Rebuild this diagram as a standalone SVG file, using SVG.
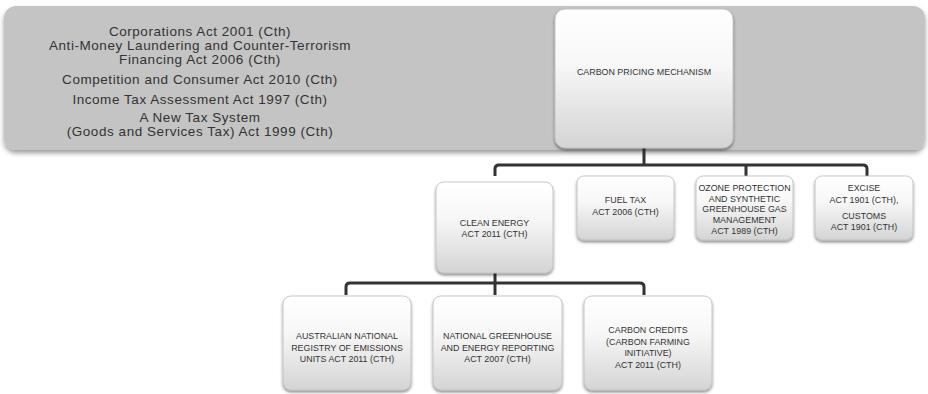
<svg xmlns="http://www.w3.org/2000/svg" width="928" height="394" viewBox="0 0 928 394">
<defs>
<linearGradient id="boxg" x1="0" y1="0" x2="0" y2="1">
<stop offset="0" stop-color="#ffffff"/>
<stop offset="0.4" stop-color="#f7f7f7"/>
<stop offset="1" stop-color="#d4d4d4"/>
</linearGradient>
<filter id="sh" x="-10%" y="-10%" width="120%" height="130%">
<feDropShadow dx="0" dy="2" stdDeviation="1.5" flood-color="#000" flood-opacity="0.45"/>
</filter>
<filter id="bsh" x="-5%" y="-10%" width="110%" height="130%">
<feDropShadow dx="0" dy="3" stdDeviation="2.5" flood-color="#000" flood-opacity="0.4"/>
</filter>
</defs>
<style>
.box{fill:url(#boxg);stroke:#bdbdbd;stroke-width:0.8;filter:url(#sh)}
.bt{font-family:"Liberation Sans",Arial,sans-serif;font-size:8.9px;fill:#333;text-anchor:middle}
.lt{font-family:"Liberation Sans",Arial,sans-serif;font-size:13.5px;letter-spacing:0.55px;fill:#333;text-anchor:middle}
.con{fill:none;stroke:#333;stroke-width:3;stroke-linejoin:round}
</style>
<rect width="928" height="394" fill="#ffffff"/>
<g id="band">
<rect x="4" y="6" width="921" height="144" rx="12" fill="#c4c4c4" filter="url(#bsh)"/>
<text class="lt" x="200" y="36">Corporations Act 2001 (Cth)</text>
<text class="lt" x="200" y="50">Anti-Money Laundering and  Counter-Terrorism</text>
<text class="lt" x="200" y="64">Financing Act 2006 (Cth)</text>
<text class="lt" x="200" y="84">Competition and Consumer Act 2010 (Cth)</text>
<text class="lt" x="200" y="104">Income Tax Assessment Act 1997 (Cth)</text>
<text class="lt" x="200" y="122">A New Tax System</text>
<text class="lt" x="200" y="136">(Goods and Services Tax) Act 1999 (Cth)</text>
</g>
<g id="connectors">
<path class="con" d="M644 148 V165"/>
<path class="con" d="M495 176 V169 Q495 165 499 165 H863 Q867 165 867 169 V176"/>
<path class="con" d="M746 165 V176"/>
<path class="con" d="M495 273 V283"/>
<path class="con" d="M346 295 V287 Q346 283 350 283 H640 Q644 283 644 287 V295"/>
<path class="con" d="M495 283 V295"/>
</g>
<g id="carbon-pricing">
<rect class="box" x="555" y="9" width="178" height="139" rx="10"/>
<text class="bt" x="644" y="75">CARBON PRICING MECHANISM</text>
</g>
<g id="clean-energy">
<rect class="box" x="436" y="182" width="117" height="91" rx="8"/>
<text class="bt" x="494.5" y="226">CLEAN ENERGY</text>
<text class="bt" x="494.5" y="237">ACT 2011 (CTH)</text>
</g>
<g id="fuel-tax">
<rect class="box" x="577" y="176" width="97" height="64" rx="7"/>
<text class="bt" x="625.5" y="203">FUEL TAX</text>
<text class="bt" x="625.5" y="215">ACT 2006 (CTH)</text>
</g>
<g id="ozone">
<rect class="box" x="696" y="176" width="97" height="64" rx="7"/>
<text class="bt" x="744.5" y="191">OZONE PROTECTION</text>
<text class="bt" x="744.5" y="201.5">AND SYNTHETIC</text>
<text class="bt" x="744.5" y="212">GREENHOUSE GAS</text>
<text class="bt" x="744.5" y="223">MANAGEMENT</text>
<text class="bt" x="744.5" y="234">ACT 1989 (CTH)</text>
</g>
<g id="excise">
<rect class="box" x="815" y="176" width="98" height="64" rx="7"/>
<text class="bt" x="864" y="191">EXCISE</text>
<text class="bt" x="864" y="203">ACT 1901 (CTH),</text>
<text class="bt" x="864" y="219">CUSTOMS</text>
<text class="bt" x="864" y="229.5">ACT 1901 (CTH)</text>
</g>
<g id="anreu">
<rect class="box" x="283" y="296" width="128" height="94" rx="8"/>
<text class="bt" x="347" y="339">AUSTRALIAN NATIONAL</text>
<text class="bt" x="347" y="350.5">REGISTRY OF EMISSIONS</text>
<text class="bt" x="347" y="362">UNITS ACT 2011 (CTH)</text>
</g>
<g id="nger">
<rect class="box" x="433" y="296" width="129" height="94" rx="8"/>
<text class="bt" x="497.5" y="339">NATIONAL GREENHOUSE</text>
<text class="bt" x="497.5" y="350.5">AND ENERGY REPORTING</text>
<text class="bt" x="497.5" y="362">ACT 2007 (CTH)</text>
</g>
<g id="carbon-credits">
<rect class="box" x="584" y="296" width="128" height="94" rx="8"/>
<text class="bt" x="648" y="333">CARBON CREDITS</text>
<text class="bt" x="648" y="344.5">(CARBON FARMING</text>
<text class="bt" x="648" y="356">INITIATIVE)</text>
<text class="bt" x="648" y="367.5">ACT 2011 (CTH)</text>
</g>
</svg>
